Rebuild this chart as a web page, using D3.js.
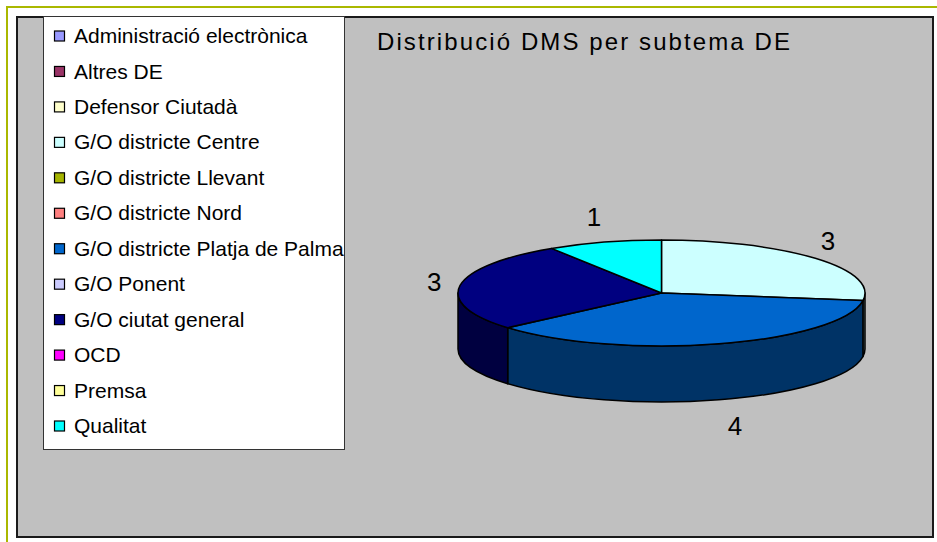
<!DOCTYPE html>
<html>
<head>
<meta charset="utf-8">
<script src="https://cdn.jsdelivr.net/npm/d3@7/dist/d3.min.js"></script>
<style>
  html, body { margin: 0; padding: 0; background: #fff; }
  svg { display: block; font-family: Arial, "Liberation Sans", sans-serif; }
</style>
</head>
<body>
<div id="chart"></div>
<script>
// --- data ---
const categories = [
    'Administració electrònica', 'Altres DE', 'Defensor Ciutadà', 'G/O districte Centre',
    'G/O districte Llevant', 'G/O districte Nord', 'G/O districte Platja de Palma', 'G/O Ponent',
    'G/O ciutat general', 'OCD', 'Premsa', 'Qualitat'
];
const values = [0, 0, 0, 3, 0, 0, 4, 0, 3, 0, 0, 1];
const palette = [
    '#9999ff', '#993366', '#ffffcc', '#ccffff', '#a5b400', '#ff8080',
    '#0066cc', '#ccccff', '#000080', '#ff00ff', '#ffff99', '#00ffff'
];
const title = 'Distribució DMS per subtema DE';

const W = 937, H = 542;
const svg = d3.select('#chart').append('svg').attr('width', W).attr('height', H);

// outer olive frame (runs off the right/bottom edge)
svg.append('rect')
    .attr('x', 7).attr('y', 7).attr('width', W + 20).attr('height', H + 20)
    .attr('fill', 'none').attr('stroke', '#aab800').attr('stroke-width', 2);

// chart area
svg.append('rect')
    .attr('x', 17).attr('y', 17).attr('width', 916).attr('height', 520)
    .attr('fill', '#c0c0c0').attr('stroke', '#1a1a1a').attr('stroke-width', 2);

// title
svg.append('text')
    .attr('x', 377).attr('y', 50)
    .attr('font-size', 24).attr('letter-spacing', 2.1)
    .attr('fill', '#000')
    .text(title);

// legend
const legend = svg.append('g');
legend.append('rect')
    .attr('x', 43.5).attr('y', 16.5).attr('width', 301).attr('height', 433)
    .attr('fill', '#fff').attr('stroke', '#333').attr('stroke-width', 1);

const rowY = d3.scalePoint().domain(categories).range([35.5, 425.5]);
const item = legend.selectAll('.legend-item')
    .data(categories)
    .join('g')
    .attr('class', 'legend-item')
    .attr('transform', d => `translate(0,${rowY(d)})`);

item.append('rect')
    .attr('x', 54.5).attr('y', -4.5).attr('width', 10).attr('height', 10)
    .attr('fill', (d, i) => palette[i]).attr('stroke', '#000').attr('stroke-width', 1.2);

item.append('text')
    .attr('x', 74).attr('dy', '0.36em')
    .attr('font-size', 21)
    .attr('fill', '#000')
    .text(d => d);

// --- 3D pie ---
const cx = 661.5, cy = 293, rx = 203.5, ry = 53, depth = 56;
const pt = (a, dy = 0) => [cx + rx * Math.sin(a), cy - ry * Math.cos(a) + dy];

const pie = d3.pie().sort(null).value(d => d.value).startAngle(0).endAngle(2 * Math.PI);
const slices = pie(categories.map((c, i) => ({ name: c, value: values[i], color: palette[i] })))
    .filter(d => d.value > 0);

function topPath(d) {
    const p0 = pt(d.startAngle), p1 = pt(d.endAngle);
    const large = d.endAngle - d.startAngle > Math.PI ? 1 : 0;
    return `M${cx},${cy}L${p0}A${rx},${ry} 0 ${large} 1 ${p1}Z`;
}

// only the front half of the rim (90°..270° from 12 o'clock) is visible
function sidePath(d) {
    const a0 = Math.max(d.startAngle, Math.PI / 2);
    const a1 = Math.min(d.endAngle, 3 * Math.PI / 2);
    if (a1 <= a0) return null;
    const p0 = pt(a0), p1 = pt(a1), q0 = pt(a0, depth), q1 = pt(a1, depth);
    return `M${p0}A${rx},${ry} 0 0 1 ${p1}L${q1}A${rx},${ry} 0 0 0 ${q0}Z`;
}

const pieG = svg.append('g');

pieG.selectAll('.side')
    .data(slices.filter(d => sidePath(d)))
    .join('path')
    .attr('class', 'side')
    .attr('d', sidePath)
    .attr('fill', d => {
        const c = d3.rgb(d.data.color);
        return d3.rgb(c.r * 0.5, c.g * 0.5, c.b * 0.5);
    })
    .attr('stroke', '#000').attr('stroke-width', 1.5).attr('stroke-linejoin', 'round');

pieG.selectAll('.top')
    .data(slices)
    .join('path')
    .attr('class', 'top')
    .attr('d', topPath)
    .attr('fill', d => d.data.color)
    .attr('stroke', '#000').attr('stroke-width', 1.5).attr('stroke-linejoin', 'round');

// value labels
const lrx = rx + 22, lry = ry + 27;
pieG.selectAll('.val')
    .data(slices)
    .join('text')
    .attr('class', 'val')
    .each(function (d) { d.mid = (d.startAngle + d.endAngle) / 2; })
    .attr('x', d => cx + lrx * Math.sin(d.mid) + (Math.cos(d.mid) < 0 ? 10 : -4))
    .attr('y', d => cy - lry * Math.cos(d.mid) + (Math.cos(d.mid) < 0 ? depth : 0))
    .attr('dy', '0.36em')
    .attr('text-anchor', 'middle')
    .attr('font-size', 26)
    .attr('fill', '#000')
    .text(d => d.value);
</script>
</body>
</html>
